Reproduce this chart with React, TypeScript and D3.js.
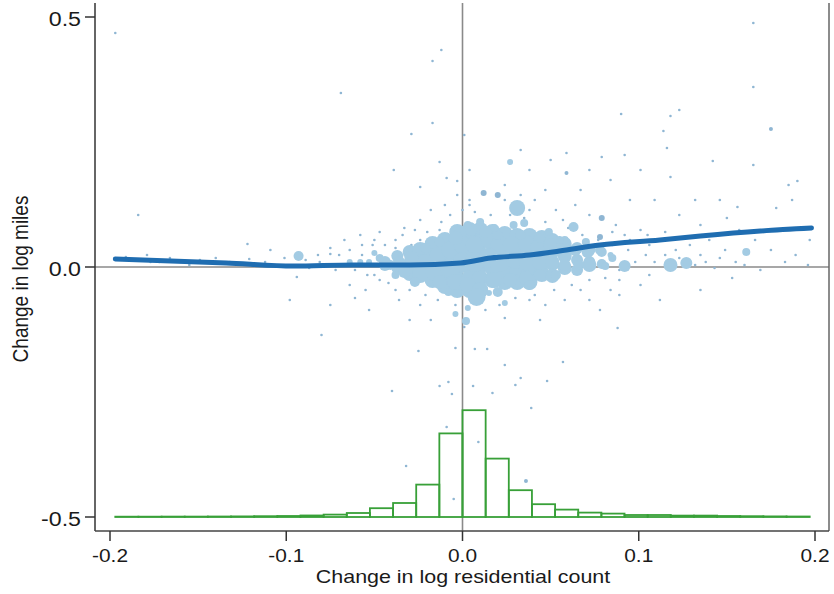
import React from "react";
import * as d3 from "d3";

const xTicks = [-0.2, -0.1, 0, 0.1, 0.2];
const yTicks = [-0.5, 0, 0.5];
const xTitle = "Change in log residential count";
const yTitle = "Change in log miles";

// dense core of the cloud: [change in log residential count, change in log miles, weight]
const corePoints: [number, number, number][] = [
  [-0.044, 0.01, 36],
  [-0.037, 0.022, 36], [-0.037, -0.002, 36],
  [-0.03, 0.03, 49], [-0.03, 0.006, 49], [-0.03, -0.014, 49],
  [-0.024, 0.034, 64], [-0.024, 0.01, 64], [-0.024, -0.014, 64],
  [-0.017, 0.046, 64], [-0.017, 0.022, 64], [-0.017, -0.002, 64], [-0.017, -0.026, 64],
  [-0.01, 0.054, 64], [-0.01, 0.03, 64], [-0.01, 0.006, 64], [-0.01, -0.018, 64], [-0.01, -0.038, 64],
  [-0.003, 0.07, 64], [-0.003, 0.046, 64], [-0.003, 0.022, 64], [-0.003, -0.002, 64], [-0.003, -0.026, 64], [-0.003, -0.046, 64],
  [0.004, 0.074, 64], [0.004, 0.05, 64], [0.004, 0.026, 64], [0.004, 0.002, 64], [0.004, -0.022, 64], [0.004, -0.046, 64],
  [0.01, 0.074, 64], [0.01, 0.05, 64], [0.01, 0.026, 64], [0.01, 0.002, 64], [0.01, -0.022, 64], [0.01, -0.046, 64],
  [0.017, 0.07, 64], [0.017, 0.046, 64], [0.017, 0.022, 64], [0.017, -0.002, 64], [0.017, -0.026, 64],
  [0.024, 0.066, 64], [0.024, 0.042, 64], [0.024, 0.018, 64], [0.024, -0.006, 64], [0.024, -0.03, 64],
  [0.031, 0.062, 64], [0.031, 0.038, 64], [0.031, 0.014, 64], [0.031, -0.01, 64], [0.031, -0.03, 64],
  [0.038, 0.062, 64], [0.038, 0.038, 64], [0.038, 0.014, 64], [0.038, -0.01, 64], [0.038, -0.03, 64],
  [0.045, 0.058, 64], [0.045, 0.034, 64], [0.045, 0.01, 64], [0.045, -0.014, 64],
  [0.051, 0.054, 49], [0.051, 0.03, 49], [0.051, 0.006, 49], [0.051, -0.018, 49],
  [0.058, 0.046, 49], [0.058, 0.022, 49], [0.058, -0.002, 49],
  [0.065, 0.038, 36], [0.065, 0.014, 36], [0.065, -0.006, 36],
  [0.072, 0.034, 36], [0.072, 0.01, 36],
  [0.079, 0.03, 25], [0.079, 0.006, 25],
  [0.085, 0.018, 16],
];

const bigPoints: [number, number, number][] = [
  [-0.093, 0.022, 25], [-0.044, 0.004, 36], [-0.036, 0.01, 36], [-0.029, 0.018, 49],
  [-0.021, 0.01, 64], [-0.014, 0.024, 64], [-0.007, 0.034, 81], [0.0, 0.044, 81],
  [0.007, 0.044, 81], [0.015, 0.054, 64], [0.021, 0.044, 81], [0.028, 0.044, 81],
  [0.036, 0.048, 64], [0.043, 0.04, 64], [0.05, 0.044, 49], [0.057, 0.038, 49],
  [0.064, 0.034, 36], [0.071, 0.03, 36], [0.078, 0.034, 25], [-0.033, -0.01, 36],
  [-0.024, -0.016, 64], [-0.016, -0.01, 81], [-0.007, -0.002, 100], [0.0, 0.01, 100],
  [0.007, 0.01, 100], [0.015, 0.018, 100], [0.021, 0.01, 100], [0.03, 0.014, 81],
  [0.037, 0.01, 81], [0.044, 0.01, 64], [0.051, 0.01, 49], [0.058, 0.004, 36],
  [0.066, 0.004, 25], [-0.013, -0.03, 49], [-0.004, -0.03, 64], [0.003, -0.036, 64],
  [0.01, -0.046, 64], [0.008, -0.06, 81], [0.018, -0.026, 64], [0.027, -0.026, 49],
  [0.036, -0.022, 49], [0.044, -0.016, 36], [0.053, -0.016, 25], [-0.001, 0.07, 36],
  [0.005, 0.074, 36], [0.013, 0.07, 36], [0.02, 0.064, 25], [-0.004, 0.058, 49],
  [0.033, 0.064, 25], [0.044, 0.058, 25], [0.058, 0.054, 16], [0.07, 0.05, 16],
  [-0.047, 0.018, 16], [-0.041, 0.004, 25], [-0.053, 0.01, 9], [-0.058, 0.01, 9],
  [-0.064, 0.01, 9], [0.031, 0.118, 64], [0.029, 0.084, 16], [0.035, 0.088, 16],
  [0.027, 0.21, 9], [0.063, 0.08, 25], [0.049, 0.07, 16], [0.055, 0.054, 16],
  [0.072, 0.004, 49], [0.081, 0.002, 16], [0.092, 0.002, 36], [0.118, 0.004, 49],
  [0.127, 0.008, 36], [0.161, 0.03, 16], [0.002, -0.108, 16], [-0.004, -0.094, 9],
  [0.003, -0.082, 9], [0.015, -0.052, 9], [0.024, -0.072, 9], [-0.05, 0.028, 9],
  [0.038, -0.036, 25], [0.02, -0.05, 25], [-0.008, -0.05, 16],
  [-0.027, -0.03, 25], [-0.038, -0.016, 16], [-0.021, 0.038, 25], [-0.013, 0.05, 25],
  [0.003, 0.084, 16], [0.01, 0.09, 16], [0.018, 0.078, 16], [0.084, 0.024, 9],
];

const smallPoints: [number, number, number][] = [
  [-0.197, 0.468, 1.7], [-0.012, 0.434, 1.7], [-0.017, 0.412, 1.7], [-0.069, 0.348, 1.7],
  [-0.017, 0.288, 1.7], [-0.029, 0.266, 1.7], [-0.013, 0.21, 1.7], [-0.039, 0.194, 1.7],
  [-0.024, 0.16, 1.7], [-0.009, 0.178, 1.7], [-0.003, 0.172, 1.7], [0.165, 0.488, 1.7],
  [0.165, 0.36, 1.7], [0.09, 0.306, 1.7], [0.118, 0.302, 1.7], [0.123, 0.314, 1.7],
  [0.114, 0.272, 1.7], [0.175, 0.276, 4], [0.116, 0.238, 1.7], [0.079, 0.22, 1.7],
  [0.059, 0.228, 1.7], [0.142, 0.212, 1.7], [0.165, 0.204, 1.7], [0.118, 0.18, 1.7],
  [0.059, 0.188, 4], [0.185, 0.164, 1.7], [0.19, 0.172, 1.7], [0.187, 0.134, 1.7],
  [0.178, 0.118, 1.7], [0.146, 0.134, 1.7], [0.15, 0.098, 1.7], [0.156, 0.12, 1.7],
  [0.183, 0.01, 1.7], [0.196, 0.004, 1.7], [0.153, -0.022, 1.7], [-0.179, 0.024, 1.7],
  [-0.149, 0.014, 1.7], [-0.121, 0.016, 1.7], [-0.122, 0.046, 1.7], [-0.075, 0.026, 1.7],
  [-0.061, -0.062, 1.7], [-0.094, -0.02, 1.7], [-0.184, 0.104, 1.7], [-0.08, -0.136, 1.7],
  [-0.025, -0.168, 1.7], [-0.04, -0.248, 1.7], [0.024, -0.102, 1.7], [0.057, -0.19, 1.7],
  [0.088, -0.122, 1.7], [0.024, -0.196, 1.7], [0.033, -0.222, 1.7], [0.017, -0.252, 1.7],
  [0.006, -0.238, 1.7], [0.014, -0.164, 1.7], [0.007, -0.164, 1.7], [-0.013, -0.238, 1.7],
  [-0.006, -0.254, 1.7], [-0.004, -0.162, 1.7], [0.001, -0.12, 1.7], [0.03, -0.236, 1.7],
  [0.039, -0.282, 1.7], [0.048, -0.228, 1.7], [0.009, -0.35, 1.7], [-0.032, -0.398, 1.7],
  [0.036, -0.428, 4], [-0.005, -0.464, 1.7], [-0.009, -0.32, 1.7], [-0.008, -0.23, 1.7],
  [-0.067, 0.054, 1.7], [-0.058, 0.064, 1.7], [-0.051, 0.044, 1.7], [-0.047, 0.07, 1.7],
  [-0.038, 0.054, 1.7], [-0.033, 0.078, 1.7], [-0.029, 0.044, 1.7], [-0.024, 0.094, 1.7],
  [-0.018, 0.114, 1.7], [-0.01, 0.124, 1.7], [-0.003, 0.144, 1.7], [0.004, 0.134, 1.7],
  [0.012, 0.148, 9], [0.02, 0.144, 9], [0.024, 0.164, 1.7], [0.033, 0.144, 1.7],
  [0.041, 0.134, 1.7], [0.047, 0.154, 1.7], [0.053, 0.114, 1.7], [0.057, 0.094, 1.7],
  [0.064, 0.124, 1.7], [0.072, 0.104, 1.7], [0.079, 0.098, 9], [0.078, 0.06, 9],
  [0.087, 0.084, 1.7], [0.092, 0.064, 1.7], [0.101, 0.074, 1.7], [0.106, 0.044, 1.7],
  [0.112, 0.054, 1.7], [0.121, 0.034, 1.7], [0.129, 0.044, 1.7], [0.135, 0.024, 1.7],
  [0.14, 0.054, 1.7], [0.146, 0.018, 1.7], [0.155, 0.01, 1.7], [0.169, -0.006, 1.7],
  [0.106, -0.016, 1.7], [0.101, -0.036, 1.7], [0.089, -0.026, 1.7], [0.084, -0.046, 1.7],
  [0.067, -0.046, 1.7], [0.058, -0.066, 1.7], [0.047, -0.076, 1.7], [0.038, -0.066, 1.7],
  [0.044, -0.106, 1.7], [0.078, -0.086, 1.7], [0.112, -0.066, 1.7], [0.135, -0.046, 1.7],
  [-0.047, -0.026, 1.7], [-0.055, -0.046, 1.7], [-0.064, -0.036, 1.7], [-0.072, -0.006, 1.7],
  [-0.081, 0.01, 1.7], [-0.087, -0.002, 1.7], [-0.075, -0.076, 1.7], [-0.036, -0.066, 1.7],
  [-0.024, -0.076, 1.7], [-0.018, -0.106, 1.7], [-0.03, -0.106, 1.7], [-0.053, -0.086, 1.7],
  [-0.098, -0.066, 1.7], [-0.109, 0.034, 1.7], [-0.132, 0.01, 1.7], [-0.16, 0.01, 1.7],
  [-0.172, 0.01, 1.7], [-0.189, 0.014, 1.7], [0.004, 0.194, 1.7], [0.001, 0.264, 1.7],
  [0.033, 0.234, 1.7], [0.038, 0.194, 1.7], [0.05, 0.214, 1.7], [0.067, 0.154, 1.7],
  [0.072, 0.194, 1.7], [0.084, 0.174, 1.7], [0.095, 0.134, 1.7], [0.101, 0.194, 1.7],
  [0.092, 0.224, 1.7], [0.109, 0.134, 1.7], [0.123, 0.104, 1.7], [0.132, 0.134, 1.7],
  [0.135, 0.084, 1.7], [0.157, 0.074, 1.7], [0.166, 0.054, 1.7], [0.175, 0.034, 1.7],
  [0.189, 0.024, 1.7], [0.197, 0.054, 1.7],
  [-0.064, 0.034, 1.7], [-0.061, -0.006, 1.7], [-0.057, 0.024, 1.7], [-0.054, -0.016, 1.7],
  [-0.05, 0.054, 1.7], [-0.044, 0.044, 1.7], [-0.042, -0.032, 1.7], [-0.038, -0.046, 1.7],
  [-0.034, 0.064, 1.7], [-0.03, -0.046, 1.7], [-0.027, 0.074, 1.7], [-0.021, -0.056, 1.7],
  [-0.02, 0.07, 1.7], [-0.014, -0.066, 1.7], [-0.012, 0.09, 1.7], [-0.007, 0.104, 1.7],
  [-0.004, -0.076, 1.7], [0.0, 0.114, 1.7], [0.007, 0.11, 1.7], [0.013, -0.086, 1.7],
  [0.016, 0.104, 1.7], [0.021, -0.076, 1.7], [0.027, 0.104, 1.7], [0.03, -0.062, 1.7],
  [0.035, 0.098, 1.7], [0.041, -0.056, 1.7], [0.047, 0.09, 1.7], [0.052, -0.046, 1.7],
  [0.06, 0.078, 1.7], [0.062, -0.036, 1.7], [0.068, 0.064, 1.7], [0.072, -0.026, 1.7],
  [0.077, 0.054, 1.7], [0.081, -0.022, 1.7], [0.085, 0.044, 1.7], [0.089, -0.006, 1.7],
  [0.094, 0.034, 1.7], [0.098, 0.01, 1.7], [0.104, 0.024, 1.7], [0.109, 0.01, 1.7],
  [0.115, 0.024, 1.7], [0.123, 0.018, 1.7], [0.132, 0.004, 1.7], [0.138, 0.01, 1.7],
  [0.143, -0.002, 1.7], [0.149, 0.034, 1.7], [0.16, 0.004, 1.7], [0.085, 0.07, 1.7],
  [0.095, 0.054, 1.7], [0.105, 0.064, 1.7], [0.115, 0.07, 1.7], [0.089, -0.056, 1.7],
  [0.072, -0.066, 1.7], [0.024, 0.134, 1.7], [0.038, 0.114, 1.7], [0.004, 0.124, 1.7],
  [-0.013, 0.074, 1.7], [-0.024, 0.054, 1.7], [-0.038, 0.038, 1.7], [-0.05, -0.016, 1.7],
  [-0.057, 0.044, 1.7], [-0.07, 0.024, 1.7], [-0.075, 0.038, 1.7], [-0.082, 0.024, 1.7],
  [-0.089, 0.014, 1.7], [-0.101, 0.018, 1.7], [-0.112, 0.01, 1.7], [-0.125, 0.004, 1.7],
  [-0.14, 0.018, 1.7], [-0.155, 0.004, 1.7], [-0.166, 0.018, 1.7], [-0.177, 0.01, 1.7],
  [-0.191, 0.02, 1.7],
];

// smoothed fit
const fitX = [-0.197, -0.134, -0.096, -0.062, -0.03, -0.001, 0.016, 0.038, 0.055, 0.078, 0.112, 0.135, 0.169, 0.198];
const fitY = [0.016, 0.008, 0.002, 0.004, 0.004, 0.008, 0.018, 0.024, 0.032, 0.044, 0.054, 0.062, 0.072, 0.078];

// histogram of x (percent of observations), 30 bins over data range
const histMin = -0.197;
const histMax = 0.197;
const histShare = [0.08, 0.08, 0.1, 0.1, 0.12, 0.15, 0.2, 0.25, 0.38, 0.6, 1.0, 2.2, 3.5, 8.1, 20.9,
  26.7, 14.6, 6.7, 3.2, 1.85, 1.1, 0.85, 0.5, 0.5, 0.35, 0.35, 0.25, 0.2, 0.15, 0.12];

const FONT = "'Liberation Sans', Arial, Helvetica, sans-serif";
const SX = 1.16;
const fmt = (t: number) => (t < 0 ? "-" : "") + Math.abs(t).toFixed(1);

export default function App() {
  const x = d3.scaleLinear().domain([-0.2, 0.2]).range([110, 815]);
  const y = d3.scaleLinear().domain([-0.5, 0.5]).range([517, 17]);
  const r = d3.scaleSqrt().domain([0, 100]).range([0, 10]);
  const hy = d3.scaleLinear().domain([0, 25]).range([y(-0.5), y(-0.3)]);
  const left = 95, right = 829, top = 3, bottom = 531;
  const binW = (histMax - histMin) / histShare.length;

  const fitLine = d3
    .line<number>()
    .x((_, i) => x(fitX[i]))
    .y((d) => y(d))
    .curve(d3.curveMonotoneX);

  return (
    <svg width={834} height={594} style={{ position: "absolute", left: 0, top: 0, background: "#fff" }}>
      <rect width={834} height={594} fill="#fff" />
      {/* reference lines */}
      <line x1={x(0)} x2={x(0)} y1={top} y2={bottom} stroke="#8a8a8a" strokeWidth={1.6} />
      <line x1={left} x2={right} y1={y(0)} y2={y(0)} stroke="#8a8a8a" strokeWidth={1.6} />
      {/* scatter */}
      {smallPoints.map((p, i) => (
        <circle key={"s" + i} cx={x(p[0])} cy={y(p[1])} r={r(p[2])} fill="#8fb6d3" />
      ))}
      {corePoints.map((p, i) => (
        <circle key={"c" + i} cx={x(p[0])} cy={y(p[1])} r={r(p[2])} fill="#a3cbe3" />
      ))}
      {bigPoints.map((p, i) => (
        <circle key={"b" + i} cx={x(p[0])} cy={y(p[1])} r={r(p[2])} fill="#a3cbe3" />
      ))}
      {/* histogram */}
      {histShare.map((v, i) => {
        const x0 = x(histMin + i * binW);
        const x1 = x(histMin + (i + 1) * binW);
        return (
          <rect key={"h" + i} x={x0} y={hy(v)} width={x1 - x0} height={hy(0) - hy(v)}
            fill="none" stroke="#38a038" strokeWidth={1.8} />
        );
      })}
      {/* fit */}
      <path d={fitLine(fitY) || ""} fill="none" stroke="#1f6db1" strokeWidth={5} strokeLinecap="round" />
      {/* frame */}
      <line x1={left} x2={left} y1={top} y2={bottom} stroke="#333" strokeWidth={1.5} />
      <line x1={right} x2={right} y1={top} y2={bottom} stroke="#666" strokeWidth={1.5} />
      <line x1={left} x2={right} y1={bottom} y2={bottom} stroke="#444" strokeWidth={1.5} />
      {/* y ticks */}
      {yTicks.map((t) => (
        <g key={"yt" + t}>
          <line x1={left - 10} x2={left} y1={y(t)} y2={y(t)} stroke="#333" strokeWidth={1.5} />
          <text transform={`translate(${81},${y(t) + 8.5}) scale(${SX},1)`} textAnchor="end"
            fontFamily={FONT} fontSize={20} fill="#1a1a1a">{fmt(t)}</text>
        </g>
      ))}
      {/* x ticks */}
      {xTicks.map((t) => (
        <g key={"xt" + t}>
          <line x1={x(t)} x2={x(t)} y1={bottom} y2={bottom + 10} stroke="#333" strokeWidth={1.5} />
          <text transform={`translate(${x(t)},${562}) scale(${SX},1)`} textAnchor="middle"
            fontFamily={FONT} fontSize={18} fill="#1a1a1a">{fmt(t)}</text>
        </g>
      ))}
      <text transform={`translate(${463},${583}) scale(${SX},1)`} textAnchor="middle"
        fontFamily={FONT} fontSize={18.5} fill="#1a1a1a">{xTitle}</text>
      <text transform={`translate(${28},${279}) scale(${SX},1) rotate(-90)`} textAnchor="middle"
        fontFamily={FONT} fontSize={19} fill="#1a1a1a">{yTitle}</text>
    </svg>
  );
}
